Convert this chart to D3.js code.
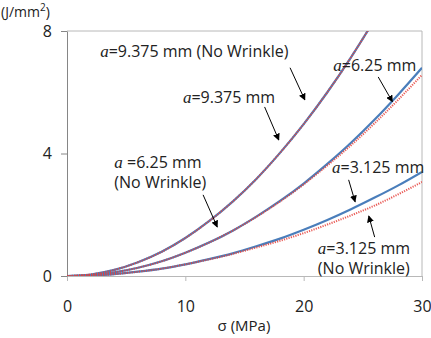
<!DOCTYPE html>
<html>
<head>
<meta charset="utf-8">
<script src="https://cdn.jsdelivr.net/npm/d3@7"></script>
<style>
  body { margin: 0; background: #fff; }
  text { font-family: "Open Sans", "Noto Sans", sans-serif; fill: #222; }
</style>
</head>
<body>
<div id="chart"></div>
<script>
var width = 431;
var height = 338;

// stress (MPa)
var sigma = [0, 2, 4, 6, 8, 10, 12, 14, 16, 18, 20, 22, 24, 26, 28, 30];
// energy (J/mm2), wrinkle = blue solid, no wrinkle = red dotted
var a9375 = [0, 0.05, 0.2, 0.45, 0.79, 1.24, 1.79, 2.43, 3.17, 4.02, 4.96, 6.0, 7.14, 8.38, 9.7, 11.1];
var a9375NoWrinkle = [0, 0.05, 0.2, 0.45, 0.79, 1.24, 1.79, 2.43, 3.17, 4.02, 4.96, 6.0, 7.14, 8.38, 9.7, 11.1];
var a625 = [0, 0.03, 0.12, 0.27, 0.48, 0.76, 1.09, 1.48, 1.94, 2.45, 3.02, 3.66, 4.35, 5.11, 5.93, 6.8];
var a625NoWrinkle = [0, 0.03, 0.12, 0.27, 0.48, 0.76, 1.09, 1.48, 1.93, 2.43, 2.99, 3.61, 4.27, 4.99, 5.76, 6.57];
var a3125 = [0, 0.015, 0.06, 0.14, 0.24, 0.38, 0.55, 0.74, 0.97, 1.22, 1.51, 1.83, 2.18, 2.56, 2.96, 3.4];
var a3125NoWrinkle = [0, 0.015, 0.06, 0.14, 0.24, 0.38, 0.54, 0.72, 0.93, 1.15, 1.4, 1.68, 1.98, 2.3, 2.67, 3.07];

var xTicks = [0, 10, 20, 30];
var yTicks = [0, 4, 8];

var blue = "#4a7ebb";
var red = "#e5403a";
var axisColor = "#868686";
var frameColor = "#b8b8b8";

var svg = d3.select("#chart").append("svg")
      .attr("width", width)
      .attr("height", height);

var xScale = d3.scaleLinear().domain([0, 30]).range([67, 422]);
var yScale = d3.scaleLinear().domain([0, 8]).range([276, 31]);

// clip curves to the plot area
svg.append("clipPath").attr("id", "plotClip")
   .append("rect")
      .attr("x", xScale(0))
      .attr("y", yScale(8))
      .attr("width", xScale(30) - xScale(0))
      .attr("height", yScale(0) - yScale(8));

// frame top and right
svg.append("line")
      .attr("x1", xScale(0)).attr("x2", xScale(30))
      .attr("y1", yScale(8)).attr("y2", yScale(8))
      .style("stroke", frameColor);
svg.append("line")
      .attr("x1", xScale(30)).attr("x2", xScale(30))
      .attr("y1", yScale(8)).attr("y2", yScale(0))
      .style("stroke", frameColor);

var xAxis = d3.axisBottom(xScale)
      .tickValues(xTicks)
      .tickSizeInner(5)
      .tickSizeOuter(0)
      .tickPadding(20)
      .tickFormat(d3.format("d"));
var yAxis = d3.axisLeft(yScale)
      .tickValues(yTicks)
      .tickSizeInner(6)
      .tickSizeOuter(0)
      .tickPadding(9)
      .tickFormat(d3.format("d"));

var xAxisGroup = svg.append("g")
      .attr("transform", "translate(0," + yScale(0) + ")")
      .call(xAxis);
var yAxisGroup = svg.append("g")
      .attr("transform", "translate(" + xScale(0) + ",0)")
      .call(yAxis);

[xAxisGroup, yAxisGroup].forEach(function(g) {
      g.select(".domain").style("stroke", axisColor);
      g.selectAll(".tick line").style("stroke", axisColor);
      g.selectAll("text")
            .style("font-family", "'Open Sans', 'Noto Sans', sans-serif")
            .style("font-size", "16px")
            .style("fill", "#222");
});
xAxisGroup.select(".domain").style("stroke", frameColor);
xAxisGroup.selectAll(".tick line").style("stroke", frameColor);

// axis titles
svg.append("text")
      .attr("x", 1)
      .attr("y", 17)
      .style("font-size", "14px")
      .html("(J/mm<tspan dy='-6' font-size='10px'>2</tspan><tspan dy='6'>)</tspan>");
svg.append("text")
      .attr("x", 244)
      .attr("y", 331)
      .style("text-anchor", "middle")
      .style("font-size", "15px")
      .text("σ (MPa)");

// curves
var line = d3.line()
      .x(function(d, i) { return xScale(sigma[i]); })
      .y(function(d) { return yScale(d); })
      .curve(d3.curveMonotoneX);

var plot = svg.append("g").attr("clip-path", "url(#plotClip)");

[a9375, a625, a3125].forEach(function(series) {
      plot.append("path")
            .attr("d", line(series))
            .style("fill", "none")
            .style("stroke", blue)
            .style("stroke-width", 2.2);
});
[a9375NoWrinkle, a625NoWrinkle, a3125NoWrinkle].forEach(function(series) {
      plot.append("path")
            .attr("d", line(series))
            .style("fill", "none")
            .style("stroke", red)
            .style("stroke-width", 2)
            .style("stroke-dasharray", "1.2,1.2")
            .style("opacity", 0.85);
});

// annotations: [sigma, energy] in data units
var labels = [
      { x: 2.8, y: 7.35, lines: ["=9.375 mm (No Wrinkle)"] },
      { x: 9.8, y: 5.85, lines: ["=9.375 mm"] },
      { x: 22.5, y: 6.9, lines: ["=6.25 mm"] },
      { x: 4.0, y: 3.73, lines: [" =6.25 mm", "(No Wrinkle)"] },
      { x: 22.4, y: 3.56, lines: ["=3.125 mm"] },
      { x: 21.2, y: 0.92, lines: ["=3.125 mm", "(No Wrinkle)"] }
];
var arrows = [
      [[18.85, 6.8], [20.1, 5.75]],
      [[16.7, 5.52], [17.9, 4.44]],
      [[26.3, 6.5], [27.5, 5.69]],
      [[11.5, 2.65], [12.7, 1.6]],
      [[23.8, 3.14], [24.35, 2.42]],
      [[26.0, 1.27], [25.5, 1.96]]
];

svg.append("defs").append("marker")
      .attr("id", "head")
      .attr("viewBox", "0 0 10 10")
      .attr("refX", 9)
      .attr("refY", 5)
      .attr("markerWidth", 7)
      .attr("markerHeight", 7)
      .attr("markerUnits", "userSpaceOnUse")
      .attr("orient", "auto")
   .append("path")
      .attr("d", "M0,0 L10,5 L0,10 z")
      .style("fill", "#000");

svg.selectAll(".arrow")
      .data(arrows)
   .enter().append("line")
      .attr("class", "arrow")
      .attr("x1", d => xScale(d[0][0]))
      .attr("y1", d => yScale(d[0][1]))
      .attr("x2", d => xScale(d[1][0]))
      .attr("y2", d => yScale(d[1][1]))
      .style("stroke", "#000")
      .style("stroke-width", 1)
      .attr("marker-end", "url(#head)");

labels.forEach(function(l) {
      l.lines.forEach(function(txt, i) {
            var t = svg.append("text")
                  .attr("x", xScale(l.x))
                  .attr("y", yScale(l.y) + 6 + i * 20)
                  .style("font-size", "16px");
            if (i === 0) {
                  t.append("tspan")
                        .style("font-family", "'Liberation Serif', 'DejaVu Serif', serif")
                        .style("font-style", "italic")
                        .style("font-size", "17px")
                        .text("a");
            }
            t.append("tspan").text(txt);
      });
});
</script>
</body>
</html>
